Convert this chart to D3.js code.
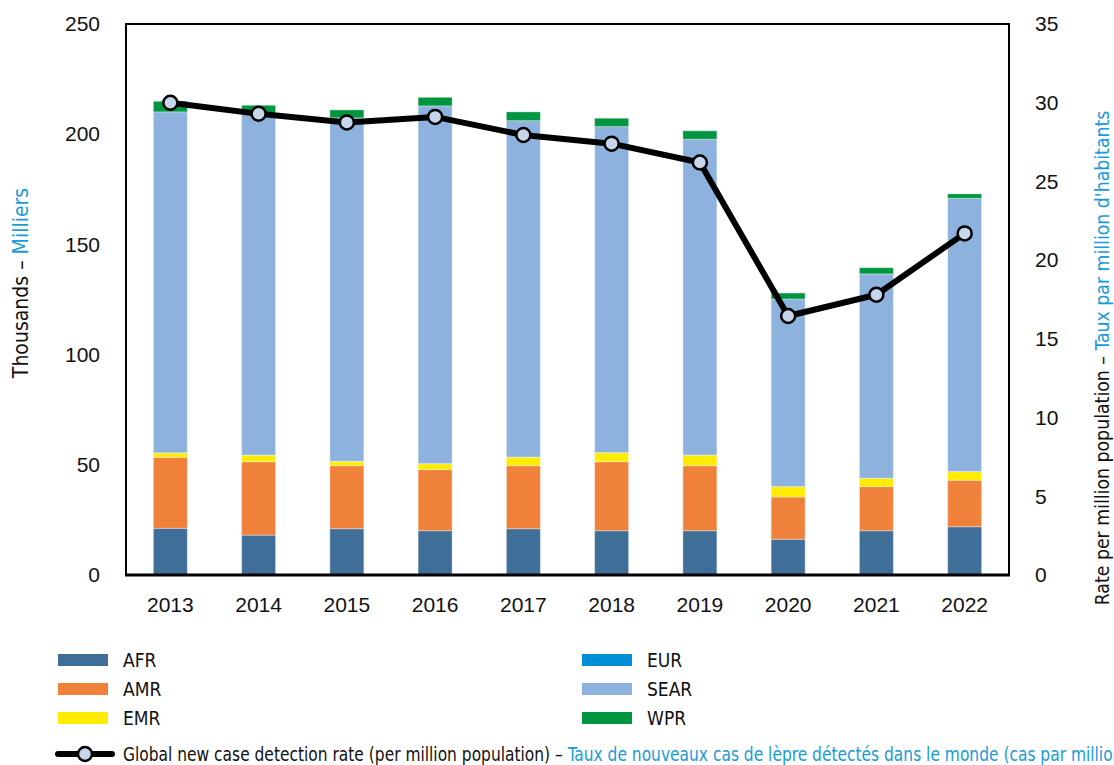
<!DOCTYPE html>
<html><head><meta charset="utf-8">
<script src="https://cdn.jsdelivr.net/npm/d3@7"></script>
<style>
html,body{margin:0;padding:0;background:#fff;}
svg{display:block;}
</style></head>
<body>
<svg id="chart" width="1114" height="765"></svg>
<script>
const years = ["2013","2014","2015","2016","2017","2018","2019","2020","2021","2022"];
const AFR  = [21.2, 18.1, 21.0, 20.1, 21.0, 20.1, 20.1, 16.2, 20.1, 21.9];
const AMR  = [32.2, 33.3, 28.6, 27.7, 28.6, 31.3, 29.5, 19.2, 20.0, 21.1];
const EMR  = [2.0, 3.0, 2.0, 2.7, 3.9, 4.1, 4.8, 4.7, 3.8, 3.9];
const EUR  = [0.03, 0.02, 0.02, 0.03, 0.03, 0.05, 0.04, 0.03, 0.02, 0.03];
const SEAR = [154.7, 155.1, 155.8, 162.3, 152.6, 147.9, 143.3, 85.1, 92.7, 124.0];
const WPR  = [4.8, 3.6, 3.6, 3.9, 4.0, 3.8, 3.8, 2.7, 2.8, 2.0];
const rate = [30.0, 29.3, 28.75, 29.1, 27.95, 27.4, 26.2, 16.45, 17.8, 21.7];
const leftTicks = [0, 50, 100, 150, 200, 250];
const rightTicks = [0, 5, 10, 15, 20, 25, 30, 35];
const regionNames = ["AFR", "AMR", "EMR", "EUR", "SEAR", "WPR"];
const regionColors = ["#3F6E99", "#F0813B", "#FFEC00", "#008FD5", "#8DB2DE", "#00963F"];

const seriesData = {AFR, AMR, EMR, EUR, SEAR, WPR};
const table = years.map((y, i) => {
  const row = {year: y};
  regionNames.forEach(r => row[r] = seriesData[r][i]);
  row.rate = rate[i];
  return row;
});

const svg = d3.select("#chart");
const M = {left: 126, right: 1009, top: 24, bottom: 575};
const numFont = "'Liberation Sans', Arial, sans-serif";
const txtFont = "'DejaVu Sans Condensed', 'Liberation Sans', sans-serif";
const blue = "#1A9BD7";

const x = d3.scaleBand().domain(years).range([M.left, M.right]).paddingInner(0.615).paddingOuter(0.31);
const y = d3.scaleLinear().domain([0, 250]).range([M.bottom, M.top]);
const y2 = d3.scaleLinear().domain([0, 35]).range([M.bottom, M.top]);
const color = d3.scaleOrdinal().domain(regionNames).range(regionColors);

const stack = d3.stack().keys(regionNames)(table);

svg.append("g").selectAll("g").data(stack).join("g")
  .attr("fill", d => color(d.key))
  .selectAll("rect").data(d => d).join("rect")
  .attr("x", d => x(d.data.year))
  .attr("width", x.bandwidth())
  .attr("y", d => y(d[1]))
  .attr("height", d => Math.max(0, y(d[0]) - y(d[1])))
  .attr("stroke", "rgba(255,255,255,0.35)").attr("stroke-width", 1);

// frame
svg.append("rect")
  .attr("x", M.left).attr("y", M.top)
  .attr("width", M.right - M.left).attr("height", M.bottom - M.top)
  .attr("fill", "none").attr("stroke", "#000").attr("stroke-width", 2);
svg.append("line").attr("x1", M.left - 1).attr("x2", M.right + 1)
  .attr("y1", M.bottom).attr("y2", M.bottom).attr("stroke", "#000").attr("stroke-width", 3);

// axes
const axL = svg.append("g").attr("transform", `translate(${M.left},0)`)
  .call(d3.axisLeft(y).tickValues(leftTicks).tickSize(0).tickPadding(26));
const axR = svg.append("g").attr("transform", `translate(${M.right},0)`)
  .call(d3.axisRight(y2).tickValues(rightTicks).tickSize(0).tickPadding(26));
const axB = svg.append("g").attr("transform", `translate(0,${M.bottom})`)
  .call(d3.axisBottom(x).tickSize(0).tickPadding(22));
[axL, axR, axB].forEach(g => {
  g.select(".domain").remove();
  g.selectAll("text").attr("font-family", numFont).attr("font-size", 21).attr("fill", "#111");
});

// line
const line = d3.line().x(d => x(d.year) + x.bandwidth() / 2).y(d => y2(d.rate));
svg.append("path").datum(table).attr("d", line)
  .attr("fill", "none").attr("stroke", "#000").attr("stroke-width", 6).attr("stroke-linejoin", "round");
svg.append("g").selectAll("circle").data(table).join("circle")
  .attr("cx", d => x(d.year) + x.bandwidth() / 2).attr("cy", d => y2(d.rate))
  .attr("r", 7).attr("fill", "#C6D7EC").attr("stroke", "#000").attr("stroke-width", 2.5);

// axis titles
const tL = svg.append("text").attr("transform", "translate(28,283) rotate(-90)")
  .attr("text-anchor", "middle").attr("font-family", txtFont).attr("font-size", 21).attr("fill", "#111");
tL.append("tspan").text("Thousands – ");
tL.append("tspan").attr("fill", blue).text("Milliers");
const tR = svg.append("text").attr("transform", "translate(1109,358) rotate(-90)")
  .attr("text-anchor", "middle").attr("font-family", txtFont).attr("font-size", 19.3).attr("fill", "#111");
tR.append("tspan").text("Rate per million population – ");
tR.append("tspan").attr("fill", blue).text("Taux par million d'habitants");

// legend
const legCols = [58, 582];
const legRows = [660, 689, 718];
regionNames.forEach((r, i) => {
  const cx = legCols[Math.floor(i / 3)], cy = legRows[i % 3];
  svg.append("rect").attr("x", cx).attr("y", cy - 6).attr("width", 50).attr("height", 12).attr("fill", color(r));
  svg.append("text").attr("x", cx + 65).attr("y", cy + 7).attr("font-family", txtFont)
    .attr("font-size", 19).attr("fill", "#111").text(r);
});
const ly = 754;
svg.append("line").attr("x1", 58).attr("x2", 112).attr("y1", ly).attr("y2", ly)
  .attr("stroke", "#000").attr("stroke-width", 6).attr("stroke-linecap", "round");
svg.append("circle").attr("cx", 85).attr("cy", ly).attr("r", 7)
  .attr("fill", "#C6D7EC").attr("stroke", "#000").attr("stroke-width", 2.5);
const lt = svg.append("text").attr("transform", `translate(123,${ly + 7}) scale(0.905,1)`)
  .attr("font-family", txtFont).attr("font-size", 19).attr("fill", "#111");
lt.append("tspan").text("Global new case detection rate (per million population) – ");
lt.append("tspan").attr("fill", blue).text("Taux de nouveaux cas de lèpre détectés dans le monde (cas par million d'habitants)");
</script>
</body></html>
